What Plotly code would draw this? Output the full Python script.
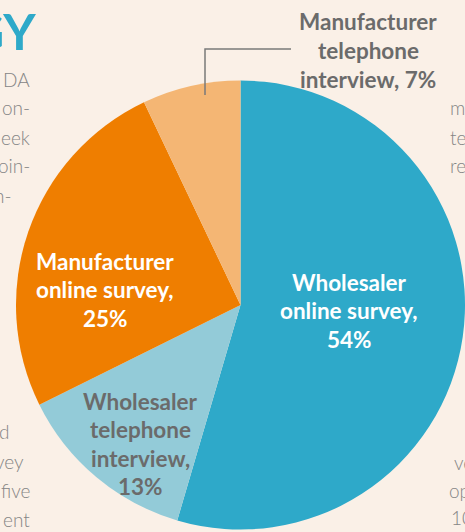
import plotly.graph_objects as go

# ---- data ----
categories = ["Wholesaler online survey", "Wholesaler telephone interview",
              "Manufacturer online survey", "Manufacturer telephone interview"]
values = [54, 13, 25, 7]
label_lines = [
    ["Wholesaler", "online survey,", "54%"],
    ["Wholesaler", "telephone", "interview,", "13%"],
    ["Manufacturer", "online survey,", "25%"],
    ["Manufacturer", "telephone", "interview, 7%"],
]
colors = ["#2EA9C9", "#93CBD8", "#EF7E00", "#F4B674"]
label_colors = ["#FFFFFF", "#6B6B6B", "#FFFFFF", "#6B6B6B"]

# background text fragments from the surrounding page
bg_left_top = ["DA", "on-", "eek", "oin-", "n-"]
bg_left_bottom = ["d", "vey", "five", "ent"]
bg_right_mid = ["m", "te", "re"]
bg_right_bottom = ["ve", "op", "10"]

W, H = 465, 532
BG = "#FAF0E7"


def px(x):
    return x / W


def py(y):
    return 1 - y / H


fig = go.Figure()
fig.add_trace(go.Pie(
    labels=categories, values=values, sort=False, direction="clockwise",
    rotation=0, marker=dict(colors=colors, line=dict(width=0)),
    textinfo="none", hoverinfo="label+percent", showlegend=False,
    domain=dict(x=[16 / W, 1.0], y=[2 / H, 452 / H]),
))

annotations = []
FONT = "Lato"

# slice labels: (center x, first line center y) in pixels
label_pos = [(349, 282), (140, 401), (105, 261), (368, 22)]
line_gap = 28.5
for lines, (cx, cy), col in zip(label_lines, label_pos, label_colors):
    for i, t in enumerate(lines):
        annotations.append(dict(
            x=px(cx), y=py(cy + i * line_gap), xref="paper", yref="paper",
            text=t, showarrow=False, xanchor="center", yanchor="middle",
            font=dict(family=FONT, size=22.5, color=col, weight="bold"),
        ))

# big title fragment
annotations.append(dict(
    x=px(38), y=py(31), xref="paper", yref="paper", text="GY",
    showarrow=False, xanchor="right", yanchor="middle",
    font=dict(family=FONT, size=50, color="#2EA9C9", weight="bold"),
))

bgfont = dict(family=FONT, size=19, color="#858585", weight=300)
for t, y, xr in zip(bg_left_top, [79, 108, 137, 166, 195], [32, 32, 32, 32, 13]):
    annotations.append(dict(x=px(xr), y=py(y), xref="paper", yref="paper", text=t,
                            showarrow=False, xanchor="right", yanchor="middle", font=bgfont))
for t, y, xr in zip(bg_left_bottom, [431, 461, 490, 519], [11, 26, 32, 32]):
    annotations.append(dict(x=px(xr), y=py(y), xref="paper", yref="paper", text=t,
                            showarrow=False, xanchor="right", yanchor="middle", font=bgfont))
for t, y in zip(bg_right_mid, [108, 137, 166]):
    annotations.append(dict(x=px(448), y=py(y), xref="paper", yref="paper", text=t,
                            showarrow=False, xanchor="left", yanchor="middle", font=bgfont))
for t, y, xl in zip(bg_right_bottom, [462, 490, 517], [452, 447, 449]):
    annotations.append(dict(x=px(xl), y=py(y), xref="paper", yref="paper", text=t,
                            showarrow=False, xanchor="left", yanchor="middle", font=bgfont))

shapes = [dict(type="path", xref="paper", yref="paper",
               path=f"M {px(205)} {py(95)} L {px(205)} {py(49)} L {px(291)} {py(49)}",
               line=dict(color="#7A7A7A", width=1.5))]

fig.update_layout(
    width=W, height=H, margin=dict(l=0, r=0, t=0, b=0),
    paper_bgcolor=BG, plot_bgcolor=BG,
    annotations=annotations, shapes=shapes,
)

fig.write_html(
    "out.html",
    config={"displayModeBar": False},
    post_script="document.body.style.margin='0';document.body.style.overflow='hidden';"
                "document.body.style.background='" + BG + "';",
)
